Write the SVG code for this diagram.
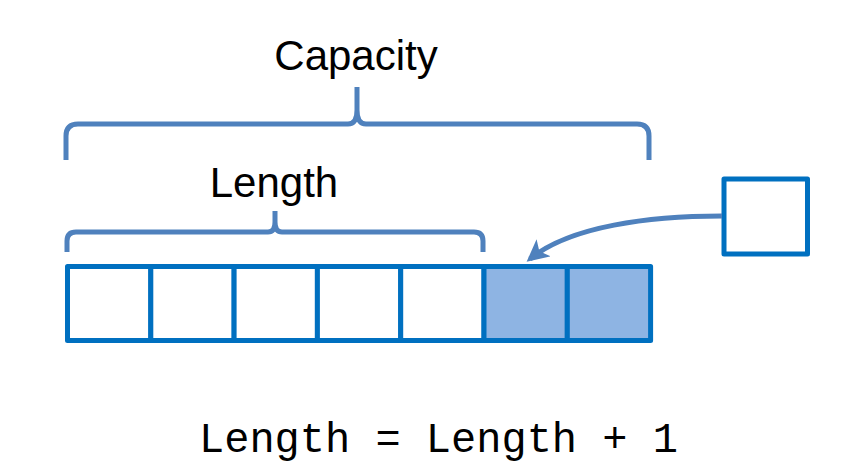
<svg xmlns="http://www.w3.org/2000/svg" width="846" height="472" viewBox="0 0 846 472">
<style>
.cell{fill:#ffffff;stroke:#0070C0;stroke-width:5;stroke-linejoin:round}
.used{fill:#8EB4E3}
.brace{fill:none;stroke:#4F81BD;stroke-width:5;stroke-linejoin:round}
.lbl{font-family:"Liberation Sans",Arial,sans-serif;font-size:42px;fill:#000}
.code{font-family:"Liberation Mono","Courier New",monospace;font-size:42px;fill:#000}
</style>
<defs>
<marker id="ah" viewBox="0 0 10 10" refX="8" refY="5" markerWidth="4.4" markerHeight="4.4" orient="auto" markerUnits="strokeWidth">
<path d="M0,0 L10,5 L0,10 L2.5,5 Z" fill="#4F81BD"/>
</marker>
</defs>
<rect width="846" height="472" fill="#ffffff"/>
<g id="capacity-brace">
<path class="brace" d="M66,160 L66,136 Q66,124 78,124 L348,124 Q357,124 357,110 L357,87 M357,110 Q357,124 366,124 L637,124 Q649,124 649,136 L649,160"/>
<text class="lbl" x="356" y="70" text-anchor="middle">Capacity</text>
</g>
<g id="length-brace">
<path class="brace" d="M67,252 L67,241 Q67,232 76,232 L268,232 Q275,232 275,222 L275,211 M275,222 Q275,232 282,232 L474,232 Q483,232 483,241 L483,252"/>
<text class="lbl" x="274" y="197" text-anchor="middle">Length</text>
</g>
<g id="array">
<rect class="cell" x="67.5" y="266.5" width="83.3" height="74"/>
<rect class="cell" x="150.8" y="266.5" width="83.3" height="74"/>
<rect class="cell" x="234.1" y="266.5" width="83.3" height="74"/>
<rect class="cell" x="317.4" y="266.5" width="83.3" height="74"/>
<rect class="cell" x="400.7" y="266.5" width="83.3" height="74"/>
<rect class="cell used" x="484" y="266.5" width="83.3" height="74"/>
<rect class="cell used" x="567.3" y="266.5" width="83.3" height="74"/>
</g>
<g id="new-item">
<rect class="cell" x="724" y="179" width="83.5" height="75"/>
</g>
<g id="connectors">
<path d="M722,216 C650,216 570,226 530,259" fill="none" stroke="#4F81BD" stroke-width="5" marker-end="url(#ah)"/>
</g>
<g id="formula">
<text class="code" x="199" y="452">Length = Length + 1</text>
</g>
</svg>
